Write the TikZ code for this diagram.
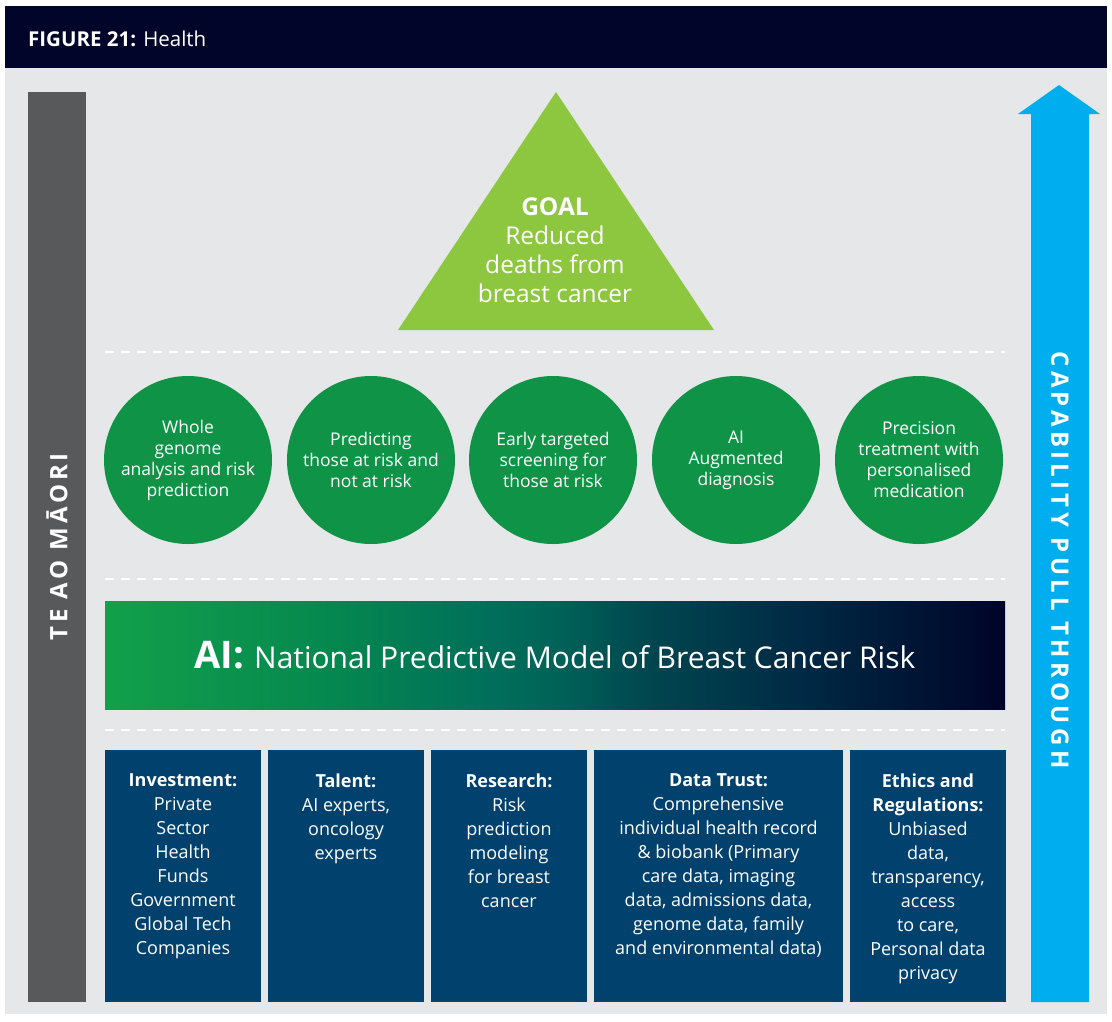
\documentclass[tikz,border=0pt]{standalone}
\usepackage{fontspec}
\setmainfont{Open Sans}
\definecolor{headnavy}{HTML}{01052A}
\definecolor{bggray}{HTML}{E6E7E8}
\definecolor{bargray}{HTML}{58595B}
\definecolor{pullblue}{HTML}{00AEEF}
\definecolor{goalgreen}{HTML}{8DC63F}
\definecolor{circgreen}{HTML}{0F9447}
\definecolor{boxnavy}{HTML}{00416D}
\definecolor{aigreen}{HTML}{12A04A}
\definecolor{aigreenb}{HTML}{05884F}
\definecolor{aiteala}{HTML}{00705A}
\definecolor{aitealb}{HTML}{006358}
\definecolor{aitealc}{HTML}{00474F}
\definecolor{aiblue}{HTML}{002A45}
\definecolor{ainavy}{HTML}{000428}
\pgfdeclarehorizontalshading{aiband}{100bp}{color(0bp)=(aigreen); color(25bp)=(aigreen);
  color(37.5bp)=(aigreenb); color(46bp)=(aiteala); color(50bp)=(aitealb); color(55bp)=(aitealc);
  color(63.5bp)=(aiblue); color(75bp)=(ainavy); color(100bp)=(ainavy)}

\tikzset{
  stage/.style={circle, fill=circgreen, minimum size=168pt, inner sep=0pt,
    text=white, align=center, font=\fontsize{17.5}{21}\selectfont},
  pillar/.style={rectangle, fill=boxnavy, minimum height=252pt, inner sep=0pt},
  pillartext/.style={anchor=north, inner sep=0pt, yshift=-24pt, text=white,
    align=center, font=\fontsize{18}{24}\selectfont},
  divider/.style={white, line width=2pt, dash pattern=on 9pt off 7pt}
}

\begin{document}
\begin{tikzpicture}[x=1pt,y=-1pt]
\useasboundingbox (0,0) rectangle (1112,1021);
\fill[white] (0,0) rectangle (1112,1021);
\fill[bggray] (5,68) rectangle (1107,1014);
\fill[headnavy] (5,6) rectangle (1107,68);
\node[anchor=west, inner sep=0pt, text=white, font=\fontsize{20.5}{24}\selectfont] (title) at (28,39) {\textbf{FIGURE 21:} Health};

% side bars
\node[rotate=90, fill=bargray, minimum width=910pt, minimum height=58pt, inner sep=0pt,
  text=white, font=\fontsize{24}{28}\selectfont\bfseries\addfontfeatures{LetterSpace=16}] (maori) at (57,547) {TE AO MĀORI};
\fill[pullblue] (1031,1002) -- (1031,114) -- (1018,114) -- (1059,85) -- (1100,114) -- (1089,114) -- (1089,1002) -- cycle;
\node[rotate=-90, inner sep=0pt, text=white,
  font=\fontsize{24}{28}\selectfont\bfseries\addfontfeatures{LetterSpace=18}] (pull) at (1060,560) {CAPABILITY PULL THROUGH};

% goal
\fill[goalgreen] (398,330) -- (556,92) -- (714,330) -- cycle;
\node[text=white, align=center, font=\fontsize{24.5}{29}\selectfont] (goal) at (555,250) {\textbf{GOAL}\\Reduced\\deaths from\\breast cancer};

\draw[divider] (105,352) -- (1005,352);
\draw[divider] (105,579) -- (1005,579);
\draw[divider] (105,730) -- (1005,730);

% stages
\node[stage] (c1) at (188,460) {Whole\\genome\\analysis and risk\\prediction};
\node[stage] (c2) at (371,460) {Predicting\\those at risk and\\not at risk};
\node[stage] (c3) at (553,460) {Early targeted\\screening for\\those at risk};
\node[stage] (c4) at (736,460) {AI\\Augmented\\diagnosis};
\node[stage] (c5) at (919,460) {Precision\\treatment with\\personalised\\medication};

% model
\node[shading=aiband, minimum width=900pt, minimum height=108pt,
  inner sep=0pt, text=white] (ai) at (555,655)
  {\fontsize{38}{44}\selectfont\textbf{AI:} \fontsize{30}{36}\selectfont National Predictive Model of Breast Cancer Risk};

% pillars
\node[pillar, minimum width=156pt] (b1) at (183,876) {};
\node[pillar, minimum width=156pt] (b2) at (346,876) {};
\node[pillar, minimum width=156pt] (b3) at (509,876) {};
\node[pillar, minimum width=249pt] (b4) at (718.5,876) {};
\node[pillar, minimum width=156pt] (b5) at (928,876) {};
\node[pillartext] (t1) at (b1.north) {\textbf{Investment:}\\Private\\Sector\\Health\\Funds\\Government\\Global Tech\\Companies};
\node[pillartext] (t2) at (b2.north) {\textbf{Talent:}\\AI experts,\\oncology\\experts};
\node[pillartext] (t3) at (b3.north) {\textbf{Research:}\\Risk\\prediction\\modeling\\for breast\\cancer};
\node[pillartext] (t4) at (b4.north) {\textbf{Data Trust:}\\Comprehensive\\individual health record\\\& biobank (Primary\\care data, imaging\\data, admissions data,\\genome data, family\\and environmental data)};
\node[pillartext] (t5) at (b5.north) {\textbf{Ethics and}\\\textbf{Regulations:}\\Unbiased\\data,\\transparency,\\access\\to care,\\Personal data\\privacy};
\end{tikzpicture}
\end{document}
